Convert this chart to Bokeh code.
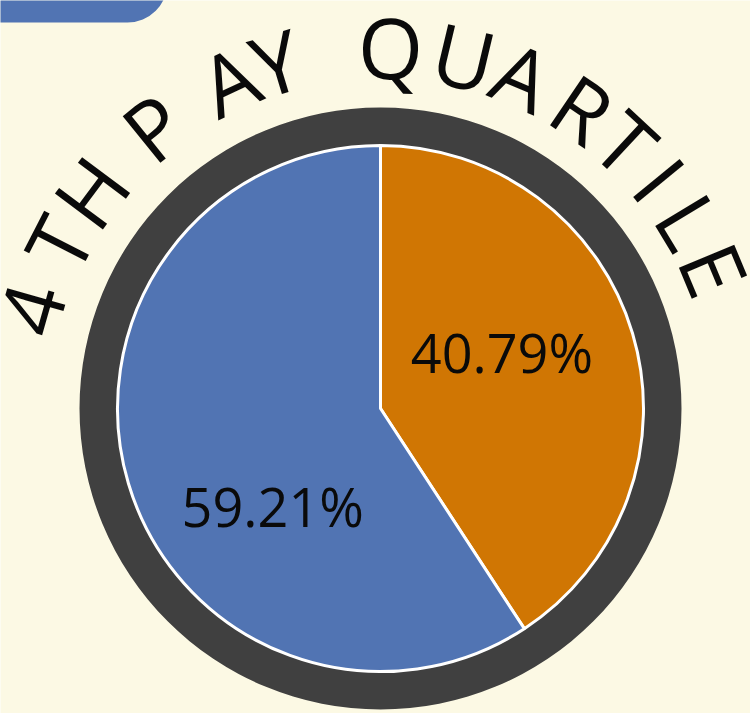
import numpy as np
from bokeh.plotting import figure
from bokeh.models import ColumnDataSource, Range1d
from bokeh.core.properties import value
from bokeh.embed import file_html
from bokeh.resources import INLINE

# ---- data ----
categories = ["Group B", "Group A"]
shares = [40.79, 59.21]
slice_colors = ["#D07603", "#5174B3"]
labels = ["40.79%", "59.21%"]
title = "4TH PAY QUARTILE"

# ---- layout constants ----
W, H = 750, 713
BG = "#FCF9E4"
CX, CY = 380, H - 408
R_PIE = 263
R_RING = 301
# label placement (angle in deg, distance from centre)
label_pos = [(25.0, 134), (222.0, 145)]
# angles (deg) of the title characters along the arc
title_angles = [164.1, 152.8, 143.2, 136.0, 128.9, 114.8, 106.8, 97.5,
                88.4, 76.6, 66.9, 56.0, 47.2, 39.3, 31.2, 22.6]
TITLE_R = 362  # baseline radius (as rendered)

p = figure(width=W, height=H, output_backend="svg", toolbar_location=None,
           x_range=Range1d(0, W), y_range=Range1d(0, H),
           background_fill_color=BG, border_fill_color=BG, min_border=0)
p.axis.visible = False
p.grid.visible = False
p.outline_line_color = None

# top-left decorative tab
p.quad(left=-60, right=167, bottom=H - 22, top=H + 60, fill_color="#5174B3",
       line_color=None, border_radius=40)

# dark ring
p.annulus(x=CX, y=CY, inner_radius=R_PIE - 5, outer_radius=R_RING,
          fill_color="#404040", line_color=None)

# pie slices (clockwise from top)
fr = np.array(shares) / sum(shares)
ends = np.pi / 2 - 2 * np.pi * np.cumsum(fr)
starts = np.concatenate([[np.pi / 2], ends[:-1]])
src = ColumnDataSource(dict(cat=categories, start=starts, end=ends, color=slice_colors))
p.wedge(x=CX, y=CY, radius=R_PIE, start_angle="start", end_angle="end",
        direction="clock", fill_color="color", line_color="white", line_width=3,
        source=src)

# slice labels
lx = [CX + r * np.cos(np.radians(a)) for a, r in label_pos]
ly = [CY + r * np.sin(np.radians(a)) for a, r in label_pos]
p.text(x=lx, y=ly, text=labels, text_font=value("Open Sans"),
       text_font_size="54px", text_align="center", text_baseline="middle",
       text_color="#0A0A0A")

# curved title
chars = list(title)
th = np.radians(title_angles)
tx = CX + TITLE_R * np.cos(th)
ty = CY + TITLE_R * np.sin(th)
p.text(x=tx, y=ty, text=chars, angle=th - np.pi / 2,
       text_font=value("Open Sans"), text_font_size="84px",
       text_align="center", text_baseline="alphabetic", text_color="#0A0A0A")

open("out.html", "w").write(file_html(p, INLINE))
